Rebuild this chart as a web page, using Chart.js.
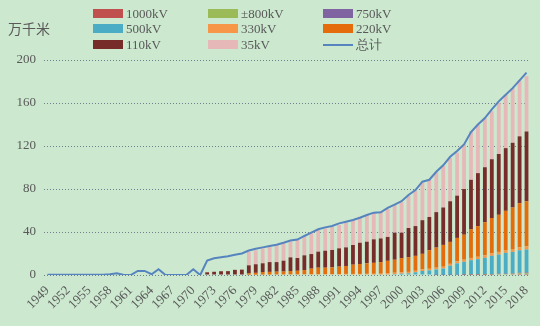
<!DOCTYPE html>
<html>
<head>
<meta charset="utf-8">
<script src="https://cdn.jsdelivr.net/npm/chart.js@4.4.1/dist/chart.umd.min.js"></script>
<style>
    body { margin: 0; background: #cce8cf; }
    #wrap { position: relative; width: 540px; height: 326px; background: #cce8cf; }
    #chart { position: absolute; left: 0; top: 0; }
    .unit { position: absolute; left: 8px; top: 18px; font: 14px "Noto Sans CJK SC", sans-serif; color: #595959; }
    .item { position: absolute; height: 16px; font: 13px "Liberation Serif", serif; color: #595959; line-height: 16px; white-space: nowrap; }
    .swatch { position: absolute; left: 0; top: 3px; width: 30px; height: 9px; }
    .swatch.line { top: 7px; height: 2px; }
    .item span { position: absolute; left: 33px; top: 0; }
</style>
</head>
<body>
<div id="wrap">
    <canvas id="chart" width="540" height="326"></canvas>
    <div class="unit">万千米</div>
    <div id="legend"></div>
</div>
<script>
// --- Data (万千米) ---
const years = [];
for (let y = 1949; y <= 2018; y++) years.push(String(y));

const kv1000 = [
    0,0,0,0,0,0,0,0,0,0, 0,0,0,0,0,0,0,0,0,0, 0,0,0,0,0,0,0,0,0,0,
    0,0,0,0,0,0,0,0,0,0, 0,0,0,0,0,0,0,0,0,0, 0,0,0,0,0,0,0,0,0,0,
    0.06,0.06,0.06,0.06,0.2,0.4,0.5,0.7,0.9,1.0
];
const kv800 = [
    0,0,0,0,0,0,0,0,0,0, 0,0,0,0,0,0,0,0,0,0, 0,0,0,0,0,0,0,0,0,0,
    0,0,0,0,0,0,0,0,0,0, 0,0,0,0,0,0,0,0,0,0, 0,0,0,0,0,0,0,0,0,0,
    0,0.2,0.2,0.3,0.3,0.4,0.4,0.5,0.6,0.6
];
const kv750 = [
    0,0,0,0,0,0,0,0,0,0, 0,0,0,0,0,0,0,0,0,0, 0,0,0,0,0,0,0,0,0,0,
    0,0,0,0,0,0,0,0,0,0, 0,0,0,0,0,0,0,0,0,0, 0,0,0,0,0,0,
    0.1,0.1,0.1,0.2,0.2,0.3,0.4,0.4,0.4,0.5,0.5,0.6,0.7,0.8
];
const kv500 = [
    0,0,0,0,0,0,0,0,0,0, 0,0,0,0,0,0,0,0,0,0, 0,0,0,0,0,0,0,0,0,0,
    0,0,0,0,0,0,0,0,0,0, 0,0,0,0,0,0,0,0,0,
    0.5,0.8,1.2,1.5,2.5,3.7,4.3,5.1,5.9,8.5,
    10.6,12.0,13.2,14.1,15.2,16.9,17.7,19.2,19.7,20.8,21.3
];
const kv330 = [
    0,0,0,0,0,0,0,0,0,0, 0,0,0,0,0,0,0,0,0,0, 0,0,0,0,0,0,0,0,0,
    0.2,0.3,0.4,0.4,0.5,0.5,0.6,0.6,0.7,0.7,
    0.8,0.8,0.9,0.9,1.0,1.0,1.0,1.1,1.1,1.2,
    1.2,1.3,1.3,1.4,1.4,1.5,1.5,1.6,1.7,1.8,
    1.9,2.0,2.1,2.2,2.3,2.4,2.5,2.6,2.7,2.8,2.9
];
const kv220 = [
    0,0,0,0,0,0,0,0,0,0, 0,0,0,0,0,0,0,0,0,0, 0,0,0,0,0,0,0,0,0,
    1.3,1.7,2.4,2.5,2.6,2.7,3.1,3.3,3.9,5.2,
    6.0,6.0,6.2,6.9,7.4,8.6,9.2,9.8,10.2,10.8,
    11.5,12.1,13.2,13.7,13.9,14.5,17.2,18.7,20.3,20.4,
    21.8,23.2,26.6,28.5,30.9,32.8,34.5,36.5,38.6,41.0,42.0
];
const kv110 = [
    0,0,0,0,0,0,0,0,0,0, 0,0,0,0,0,0,0,0,0,0, 0,0,0,
    2.5,3,3.5,3.6,4.8,5.0,
    7.5,8.0,8.1,9.1,8.9,10.1,12.7,11.9,13.7,13.6,
    14.9,15.8,16.2,17.0,17.3,18.3,19.8,20.1,21.9,22.0,
    22.2,25.2,23.7,27.1,27.7,31.3,31.0,33.0,34.8,37.8,
    39.3,42.5,46.1,49.3,51.1,54.7,56.6,58.3,60.2,62.2,64.9
];
const kv35 = [
    0,0,0,0,0,0,0,0,0,0, 0,0,0,0,0,0,0,0,0,0, 0,0,0,0,0,0,0,0,0,
    12.5,13,13.9,14.4,16,16.2,14.6,16.8,17.4,19.3,
    20.2,20.8,21.7,21.7,23.0,23.3,24.3,24.8,24.8,25.0,
    26.1,25.6,28.3,30.1,33.0,35.0,34.6,36.9,38.7,40.4,
    40.0,41.5,45.2,45.2,45.7,44.6,47.4,49.7,50.8,52.0,51.5
];
const total = [
    0.3,0.3,0.3,0.3,0.3,0.3,0.3,0.3,0.3,0.7,
    1.6,0,0,3.8,3.8,0.7,5.3,0,0,0,
    0,5.3,0,
    13.5,15.5,16.5,17.5,18.8,20,
    22.8,24.5,25.7,27,28.2,30,32,33,36.3,39.4,
    42.5,44.3,45.6,48,49.6,51.2,53.3,55.8,58,58.3,
    62.5,65.5,68.6,74.5,79,86.8,88.6,96,102,110,
    115.4,121.5,133,140,146,154,161.5,167.7,173.8,181,188.3
];

// --- Series config ---
const barSeries = [
    { label: '1000kV', data: kv1000, color: '#c0504d' },
    { label: '±800kV', data: kv800, color: '#9bbb59' },
    { label: '750kV', data: kv750, color: '#8064a2' },
    { label: '500kV', data: kv500, color: '#4bacc6' },
    { label: '330kV', data: kv330, color: '#f79646' },
    { label: '220kV', data: kv220, color: '#e46c0a' },
    { label: '110kV', data: kv110, color: '#772c2a' },
    { label: '35kV', data: kv35, color: '#e6b9b8' }
];
const lineColor = '#5584bf';
const textColor = '#595959';

// --- Legend (3 columns) ---
const legendEl = document.getElementById('legend');
const legendItems = barSeries.map(s => ({ label: s.label, color: s.color, line: false }));
legendItems.push({ label: '总计', color: lineColor, line: true });
const colX = [93, 208, 323];
const rowY = [6, 21, 37];
legendItems.forEach((item, i) => {
    const div = document.createElement('div');
    div.className = 'item';
    div.style.left = colX[i % 3] + 'px';
    div.style.top = rowY[Math.floor(i / 3)] + 'px';
    div.innerHTML = `<div class="swatch${item.line ? ' line' : ''}" style="background:${item.color}"></div><span>${item.label}</span>`;
    legendEl.appendChild(div);
});

// --- Chart ---
const datasets = barSeries.map(s => ({
    type: 'bar',
    label: s.label,
    data: s.data,
    backgroundColor: s.color,
    borderWidth: 0,
    stack: 'bars',
    order: 1,
    barPercentage: 0.55,
    categoryPercentage: 1
}));
datasets.push({
    type: 'line',
    label: '总计',
    data: total,
    borderColor: lineColor,
    borderWidth: 2,
    pointRadius: 0,
    tension: 0,
    fill: false,
    stack: 'line',
    order: 0
});

new Chart(document.getElementById('chart'), {
    type: 'bar',
    data: { labels: years, datasets: datasets },
    options: {
        responsive: false,
        animation: false,
        devicePixelRatio: 1,
        layout: { padding: { top: 60, right: 10, left: 0, bottom: 0 } },
        plugins: { legend: { display: false }, tooltip: { enabled: false } },
        scales: {
            x: {
                stacked: true,
                grid: { display: false },
                border: { display: false },
                ticks: {
                    autoSkip: false,
                    maxRotation: 45,
                    minRotation: 45,
                    color: textColor,
                    font: { family: 'Liberation Serif', size: 13 },
                    padding: 0,
                    callback: function(value, index) {
                        return index % 3 === 0 ? years[index] : null;
                    }
                },
                afterFit: function(scale) { scale.height = 51; }
            },
            y: {
                stacked: true,
                min: 0,
                max: 200,
                ticks: {
                    stepSize: 40,
                    color: textColor,
                    font: { family: 'Liberation Serif', size: 13 },
                    padding: 8
                },
                grid: { color: '#6f7f8c', lineWidth: 1, drawTicks: false },
                border: { display: false, dash: [1, 2] },
                afterFit: function(scale) { scale.width = 44; }
            }
        }
    }
});
</script>
</body>
</html>
